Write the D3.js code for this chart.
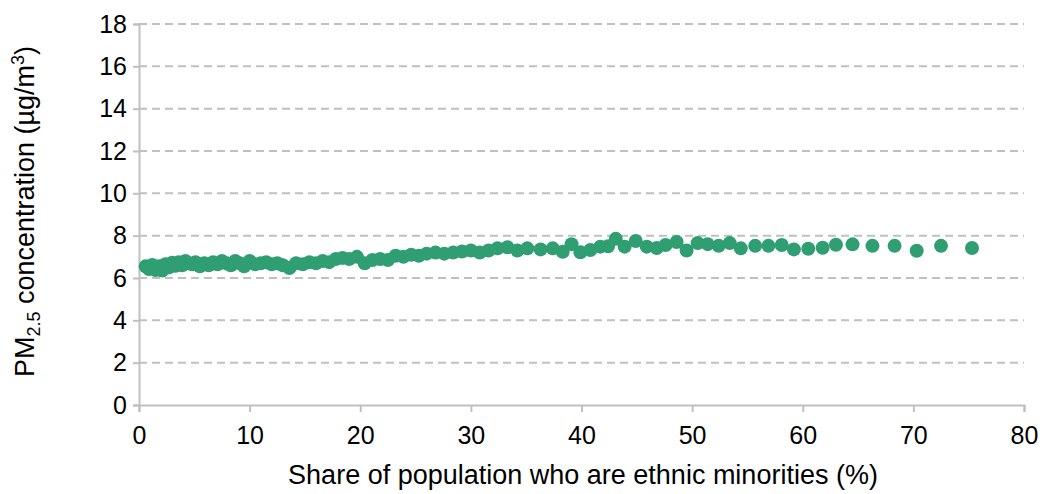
<!DOCTYPE html>
<html>
<head>
<meta charset="utf-8">
<script src="https://cdn.jsdelivr.net/npm/d3@7"></script>
<style>
  html, body { margin: 0; padding: 0; background: #fff; }
  svg { display: block; font-family: "Liberation Sans", Arial, sans-serif; }
</style>
</head>
<body>
<svg id="chart" width="1044" height="494"></svg>
<script>
// Share of population who are ethnic minorities (%), one point per group
const minorityShare = [
  0.6, 0.9, 1.2, 1.5, 1.8, 2.1, 2.4, 2.7, 3.0, 3.3, 3.6, 3.9, 4.2, 4.5, 4.8, 5.1,
  5.5, 5.9, 6.3, 6.7, 7.1, 7.5, 7.9, 8.3, 8.7, 9.1, 9.5,
  10.0, 10.5, 11.0, 11.5, 12.0, 12.5, 13.0,
  13.6, 14.2, 14.8, 15.4, 16.0, 16.6, 17.2, 17.8, 18.4, 19.0,
  19.7, 20.4, 21.1, 21.8, 22.5, 23.2, 23.9, 24.6, 25.3, 26.0,
  26.8, 27.6, 28.4, 29.2, 30.0, 30.8, 31.6, 32.4, 33.3,
  34.2, 35.1, 36.3, 37.4, 38.3, 39.1, 39.9, 40.8, 41.7, 42.4, 43.1, 43.9, 44.9,
  45.9, 46.8, 47.6, 48.6, 49.5, 50.5, 51.4,
  52.4, 53.4, 54.4, 55.7, 56.9, 58.1, 59.2, 60.5, 61.8, 63.0, 64.5, 66.3, 68.3,
  70.3, 72.5, 75.3
];

// Mean PM2.5 concentration (µg/m³) for each point above
const pm25 = [
  6.55, 6.42, 6.62, 6.38, 6.55, 6.35, 6.65, 6.5, 6.72, 6.58, 6.75, 6.6, 6.8, 6.7, 6.65, 6.75,
  6.55, 6.7, 6.6, 6.75, 6.65, 6.8, 6.7, 6.6, 6.8, 6.7, 6.55,
  6.8, 6.65, 6.7, 6.75, 6.65, 6.7, 6.6,
  6.47, 6.7, 6.65, 6.75, 6.7, 6.8, 6.75, 6.9, 6.95, 6.9,
  7.0, 6.7, 6.85, 6.9, 6.85, 7.05, 7.0, 7.1, 7.05, 7.15,
  7.2, 7.15, 7.2, 7.25, 7.3, 7.2, 7.3, 7.4, 7.45,
  7.3, 7.4, 7.35, 7.4, 7.24, 7.6, 7.22, 7.32, 7.48, 7.5, 7.85, 7.48, 7.75,
  7.48, 7.42, 7.56, 7.7, 7.3, 7.65, 7.6,
  7.52, 7.65, 7.4, 7.52, 7.52, 7.56, 7.35, 7.38, 7.43, 7.57, 7.59, 7.52, 7.52,
  7.29, 7.52, 7.42
];

const xTicks = [0, 10, 20, 30, 40, 50, 60, 70, 80];
const yTicks = [0, 2, 4, 6, 8, 10, 12, 14, 16, 18];

const svg = d3.select("#chart");
const margin = { left: 139, right: 20, top: 24, bottom: 89 };
const width = 1044, height = 494;

const x = d3.scaleLinear().domain([0, 80]).range([margin.left, width - margin.right]);
const y = d3.scaleLinear().domain([0, 18]).range([height - margin.bottom, margin.top]);

const axisColor = "#c0c0c0";
const pointColor = "#309e73";
const tickFont = "25px";
const titleFont = "27px";

// Dashed horizontal gridlines
svg.append("g")
  .selectAll("line")
  .data(yTicks.filter(d => d > 0))
  .join("line")
  .attr("x1", x(0)).attr("x2", x(80))
  .attr("y1", d => y(d)).attr("y2", d => y(d))
  .attr("stroke", axisColor)
  .attr("stroke-width", 2)
  .attr("stroke-dasharray", "8,5");

// Y axis
const yAxis = svg.append("g")
  .attr("transform", `translate(${x(0)},0)`)
  .call(d3.axisLeft(y).tickValues(yTicks).tickSize(6).tickPadding(6).tickFormat(d3.format("d")));
yAxis.attr("font-size", null).attr("font-family", null);
yAxis.select(".domain").attr("stroke", axisColor).attr("stroke-width", 2);
yAxis.selectAll(".tick line").attr("stroke", axisColor).attr("stroke-width", 2);
yAxis.selectAll(".tick text")
  .attr("fill", "#000")
  .attr("font-size", tickFont)
  .attr("font-family", "Liberation Sans, Arial, sans-serif");

// X axis
const xAxis = svg.append("g")
  .attr("transform", `translate(0,${y(0)})`)
  .call(d3.axisBottom(x).tickValues(xTicks).tickSize(7).tickPadding(14).tickFormat(d3.format("d")));
xAxis.attr("font-size", null).attr("font-family", null);
xAxis.select(".domain").attr("stroke", axisColor).attr("stroke-width", 2);
xAxis.selectAll(".tick line").attr("stroke", axisColor).attr("stroke-width", 2);
xAxis.selectAll(".tick text")
  .attr("fill", "#000")
  .attr("font-size", tickFont)
  .attr("font-family", "Liberation Sans, Arial, sans-serif");

// Points
svg.append("g")
  .selectAll("circle")
  .data(minorityShare.map((d, i) => ({ share: d, pm: pm25[i] })))
  .join("circle")
  .attr("cx", d => x(d.share))
  .attr("cy", d => y(d.pm))
  .attr("r", 7)
  .attr("fill", pointColor);

// X axis title
svg.append("text")
  .attr("x", 583)
  .attr("y", 484)
  .attr("text-anchor", "middle")
  .attr("font-size", titleFont)
  .attr("fill", "#000")
  .text("Share of population who are ethnic minorities (%)");

// Y axis title with subscript and superscript
const yTitle = svg.append("text")
  .attr("transform", `translate(34,${(y(0) + y(18)) / 2 - 3}) rotate(-90)`)
  .attr("text-anchor", "middle")
  .attr("font-size", titleFont)
  .attr("fill", "#000");
yTitle.append("tspan").text("PM");
yTitle.append("tspan").attr("dy", 6).attr("font-size", "18px").text("2.5");
yTitle.append("tspan").attr("dy", -6).text(" concentration (µg/m");
yTitle.append("tspan").attr("dy", -10).attr("font-size", "18px").text("3");
yTitle.append("tspan").attr("dy", 10).text(")");
</script>
</body>
</html>
